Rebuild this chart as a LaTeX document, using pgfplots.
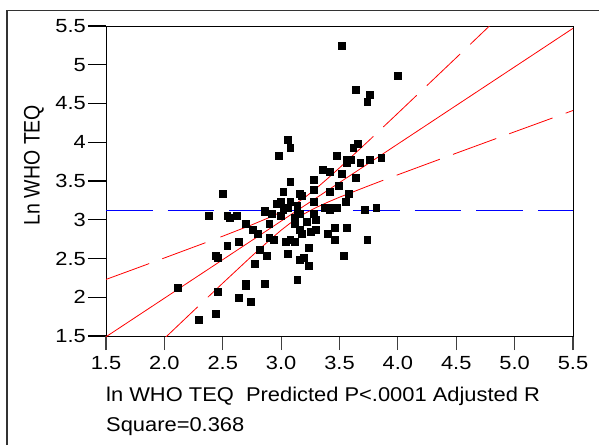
\documentclass[border=0pt]{standalone}
\usepackage{pgfplots}
\pgfplotsset{compat=1.18}
\usepackage{fontspec}
\setmainfont{Liberation Sans}
\newfontfamily\tickfont{Liberation Sans}[FakeStretch=1.15]
\newfontfamily\labfont{Liberation Sans}[FakeStretch=1.1]
\definecolor{fitred}{HTML}{FF0000}
\definecolor{meanblue}{HTML}{0000FF}
\pgfplotsset{frame/.style={
    scale only axis, width=467pt, height=310pt,
    xmin=1.5, xmax=5.5, ymin=1.5, ymax=5.5,
    tick align=outside, xtick pos=lower, ytick pos=left,
    axis line style={black, line width=0.9pt}}}

\begin{document}
\begin{tikzpicture}
% y ticks are longer than x ticks: drawn by a second, empty axis on top
\begin{axis}[frame, xtick=\empty,
    ytick={1.5,2,2.5,3,3.5,4,4.5,5,5.5},
    yticklabels={1.5,2,2.5,3,3.5,4,4.5,5,5.5},
    major tick length=18pt,
    ytick style={black, line width=1.2pt},
    yticklabel style={font=\fontsize{19}{22}\tickfont, anchor=east, inner sep=0pt, xshift=-2pt}]
  \addplot[draw=none] coordinates {(1.5,1.5)};
\end{axis}
\begin{axis}[frame, ytick=\empty,
    xtick={1.5,2,2.5,3,3.5,4,4.5,5,5.5},
    xticklabels={1.5,2.0,2.5,3.0,3.5,4.0,4.5,5.0,5.5},
    major tick length=14pt,
    xtick style={black!75, line width=1.2pt},
    xticklabel style={font=\fontsize{19}{22}\tickfont, anchor=base, inner sep=0pt, yshift=-19pt},
    clip=true]
  % observations
  \addplot[only marks, mark=square*, mark size=3.4pt, black] coordinates {
    (3.519,5.242) (3.997,4.855) (3.638,4.674) (3.758,4.618) (3.738,4.519)
    (3.057,4.029) (3.077,3.926) (2.977,3.823) (3.655,3.977) (3.618,3.926)
    (3.479,3.823) (3.561,3.771) (3.596,3.771) (3.561,3.737) (3.678,3.741)
    (3.758,3.771) (3.858,3.797) (3.359,3.642) (3.416,3.616) (3.519,3.590)
    (3.638,3.539) (3.077,3.487) (3.276,3.513) (3.017,3.358) (3.276,3.384)
    (3.496,3.435) (3.416,3.358) (3.159,3.332) (3.576,3.332) (2.498,3.332)
    (3.176,3.306) (2.957,3.203) (2.994,3.229) (3.077,3.229) (3.276,3.229)
    (3.556,3.229) (3.137,3.177) (3.017,3.126) (3.057,3.152) (3.376,3.152)
    (3.479,3.152) (3.419,3.126) (3.718,3.126) (3.815,3.152) (2.857,3.100)
    (2.917,3.083) (2.994,3.048) (3.156,3.083) (3.117,3.023) (3.137,3.074)
    (3.276,3.074) (2.378,3.048) (2.538,3.048) (2.558,3.023) (2.618,3.048)
    (3.296,2.997) (3.216,2.971) (2.698,2.945) (2.897,2.945) (3.119,2.945)
    (2.758,2.868) (2.797,2.817) (3.156,2.868) (3.176,2.817) (3.256,2.842)
    (3.296,2.868) (3.459,2.894) (3.559,2.894) (3.399,2.817) (2.897,2.765)
    (2.937,2.739) (2.638,2.713) (3.037,2.713) (3.077,2.739) (3.119,2.713)
    (3.459,2.739) (3.738,2.739) (2.538,2.661) (2.817,2.610) (3.236,2.635)
    (3.057,2.558) (2.877,2.532) (3.539,2.532) (2.438,2.532) (2.458,2.506)
    (3.196,2.506) (3.156,2.481) (2.777,2.429) (3.236,2.403) (3.137,2.223)
    (2.698,2.171) (2.698,2.145) (2.857,2.171) (2.116,2.119) (2.458,2.068)
    (2.638,1.990) (2.737,1.939) (2.438,1.784) (2.295,1.707) (3.416,3.152)
    (2.857,3.117)};
  % mean of response
  \addplot[meanblue, line width=0.9pt, dash pattern=on 46.7pt off 15pt] coordinates {(1.5,3.121) (5.5,3.121)};
  % fitted line
  \addplot[fitred, line width=0.8pt] coordinates {(1.5,1.490) (5.5,5.470)};
  % upper confidence curve
  \addplot[fitred, line width=0.8pt, dash pattern=on 46pt off 14pt] coordinates {
    (1.5,2.230) (1.75,2.368) (2.0,2.507) (2.25,2.647) (2.37,2.714)};
  \addplot[fitred, line width=0.8pt] coordinates {
    (2.48,2.777) (2.5,2.788) (2.75,2.935) (2.9,3.030) (3.0,3.101) (3.07,3.157)
    (3.14,3.222) (3.21,3.296) (3.3,3.404) (3.4,3.534) (3.5,3.670) (3.75,4.019) (3.79,4.076)};
  \addplot[fitred, line width=0.8pt, dash pattern=on 46pt off 14pt] coordinates {
    (3.875,4.197) (4.0,4.375) (4.25,4.733) (4.5,5.091) (4.75,5.451) (5.0,5.810)};
  % lower confidence curve
  \addplot[fitred, line width=0.8pt, dash pattern=on 46pt off 14pt] coordinates {
    (2.0,1.468) (2.25,1.826) (2.38,2.011)};
  \addplot[fitred, line width=0.8pt] coordinates {
    (2.38,2.011) (2.5,2.182) (2.75,2.533) (2.9,2.736) (3.0,2.865) (3.07,2.947)
    (3.14,3.022) (3.21,3.087) (3.3,3.158) (3.4,3.227) (3.5,3.291) (3.75,3.438) (3.875,3.510)};
  \addplot[fitred, line width=0.8pt, dash pattern=on 46pt off 14pt] coordinates {
    (3.99,3.575) (4.25,3.720) (4.5,3.859) (4.75,3.997) (5.0,4.135) (5.25,4.272) (5.5,4.410)};
\end{axis}
\node[rotate=90, font=\fontsize{19.5}{22}\selectfont] at (-72pt,171pt) {\scalebox{1}[1.15]{Ln WHO TEQ}};
\node[anchor=base west, inner sep=0pt, font=\fontsize{19.9}{22}\labfont] at (0pt,-65pt) {ln WHO TEQ\ \ Predicted P<.0001 Adjusted R};
\node[anchor=base west, inner sep=0pt, font=\fontsize{19.9}{22}\labfont] at (0pt,-95pt) {Square=0.368};
\draw[black!80, line width=1.3pt] (-99pt,-109pt) -- (-99pt,325.5pt) -- (493pt,325.5pt);
\pgfresetboundingbox
\useasboundingbox (-106pt,-109pt) rectangle (493pt,336pt);
\end{tikzpicture}
\end{document}
